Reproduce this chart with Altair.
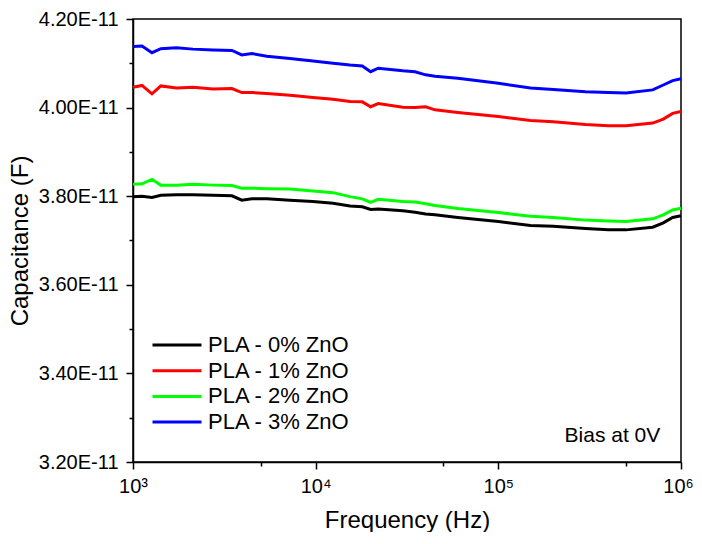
import altair as alt
import pandas as pd

# ---- data ----
freq_hz = [1000, 1120, 1270, 1420, 1730, 2130, 2740, 3480, 3940, 4480, 5400, 7230,
           9660, 12440, 15420, 18000, 20000, 22000, 30000, 35000, 40000, 45000,
           60000, 100000, 150000, 200000, 300000, 400000, 500000, 700000, 800000,
           900000, 1000000]

# capacitance in units of 1E-11 F
cap_0 = [3.799, 3.800, 3.797, 3.802, 3.803, 3.803, 3.802, 3.801, 3.791, 3.794, 3.794,
         3.791, 3.788, 3.784, 3.778, 3.776, 3.770, 3.771, 3.767, 3.764, 3.760, 3.758,
         3.752, 3.743, 3.734, 3.732, 3.727, 3.724, 3.724, 3.730, 3.740, 3.752, 3.756]
cap_1 = [4.046, 4.050, 4.031, 4.049, 4.044, 4.046, 4.042, 4.043, 4.034, 4.034, 4.032,
         4.028, 4.023, 4.019, 4.014, 4.013, 4.002, 4.009, 4.001, 4.000, 4.002, 3.995,
         3.989, 3.980, 3.971, 3.968, 3.962, 3.959, 3.959, 3.965, 3.974, 3.987, 3.991]
cap_2 = [3.827, 3.828, 3.838, 3.825, 3.825, 3.827, 3.825, 3.824, 3.818, 3.818, 3.817,
         3.816, 3.812, 3.808, 3.799, 3.794, 3.786, 3.793, 3.788, 3.787, 3.783, 3.779,
         3.772, 3.763, 3.755, 3.752, 3.746, 3.744, 3.743, 3.749, 3.758, 3.769, 3.773]
cap_3 = [4.138, 4.139, 4.124, 4.133, 4.135, 4.132, 4.130, 4.129, 4.119, 4.122, 4.116,
         4.111, 4.105, 4.100, 4.096, 4.094, 4.081, 4.089, 4.083, 4.081, 4.074, 4.071,
         4.066, 4.055, 4.044, 4.041, 4.036, 4.034, 4.033, 4.040, 4.051, 4.061, 4.065]

series_names = ["PLA - 0% ZnO", "PLA - 1% ZnO", "PLA - 2% ZnO", "PLA - 3% ZnO"]
series_colors = ["#000000", "#FF0000", "#00FF00", "#0000FF"]

y_ticks = [3.2e-11, 3.3e-11, 3.4e-11, 3.5e-11, 3.6e-11, 3.7e-11, 3.8e-11, 3.9e-11,
           4.0e-11, 4.1e-11, 4.2e-11]
x_ticks = [1e3, 5e3, 1e4, 5e4, 1e5, 5e5, 1e6]

note_text = ["Bias at 0V"]
note_x = [7.7e5]
note_y = [3.246e-11]

# ---- build table ----
rows = []
for name, vals in zip(series_names, [cap_0, cap_1, cap_2, cap_3]):
    for f, v in zip(freq_hz, vals):
        rows.append({"freq": f, "cap": v * 1e-11, "series": name})
df = pd.DataFrame(rows)
note_df = pd.DataFrame({"x": note_x, "y": note_y, "text": note_text})

FONT = "Liberation Sans"

x_scale = alt.Scale(type="log", domain=[1e3, 1e6], nice=False)
y_scale = alt.Scale(domain=[3.2e-11, 4.2e-11], nice=False, zero=False)

x_axis = alt.Axis(
    values=x_ticks,
    labelExpr="datum.value == 1000 ? '10³' : datum.value == 10000 ? '10⁴' : "
              "datum.value == 100000 ? '10⁵' : datum.value == 1000000 ? '10⁶' : ''",
    tickSize={"condition": {"test": "indexof([5000, 50000, 500000], datum.value) >= 0",
                            "value": 4}, "value": 7},
    labelOffset={"condition": {"test": "datum.value == 1000000", "value": -3}, "value": 0},
    labelFlush=False,
    labelOverlap=False,
    labelFontSize=20,
    labelPadding=7,
    title="Frequency (Hz)",
    titleFontSize=24,
    titleFontWeight="normal",
    titleX=274,
    titleY=65,
    titleBaseline="alphabetic",
    titleAlign="center",
    grid=False,
)
y_axis = alt.Axis(
    values=y_ticks,
    labelExpr="round(datum.value * 1e12) % 2 == 0 ? format(datum.value * 1e11, '.2f') + 'E-11' : ''",
    tickSize={"condition": {"test": "round(datum.value * 1e12) % 2 == 1", "value": 4},
              "value": 7},
    labelOverlap=False,
    labelFlush=False,
    labelFontSize=20,
    labelPadding=8,
    title="Capacitance (F)",
    titleFontSize=24,
    titleFontWeight="normal",
    titleAngle=-90,
    titleX=-106,
    titleY=221.5,
    titleBaseline="alphabetic",
    titleAlign="center",
    grid=False,
)

lines = alt.Chart(df).mark_line(strokeWidth=3).encode(
    x=alt.X("freq:Q", scale=x_scale, axis=x_axis),
    y=alt.Y("cap:Q", scale=y_scale, axis=y_axis),
    color=alt.Color(
        "series:N",
        scale=alt.Scale(domain=series_names, range=series_colors),
        sort=series_names,
        legend=alt.Legend(
            orient="none",
            legendX=33,
            legendY=315,
            title=None,
            symbolType="M-5,0H5",
            symbolSize=96,
            symbolStrokeWidth=3,
            labelFontSize=22,
            labelFont=FONT,
            labelColor="black",
            labelOffset=20,
            rowPadding=3.7,
            padding=0,
        ),
    ),
    detail="series:N",
)

note = alt.Chart(note_df).mark_text(
    align="right", baseline="alphabetic", fontSize=21, font=FONT, color="black"
).encode(
    x=alt.X("x:Q", scale=x_scale),
    y=alt.Y("cap:Q", scale=y_scale),
    text="text:N",
).transform_calculate(cap="datum.y")

chart = alt.layer(lines, note).properties(
    width=548,
    height=443,
    padding={"left": 125, "top": 11, "right": 13, "bottom": 70},
    autosize=alt.AutoSizeParams(type="none"),
    background="white",
).configure_view(
    stroke="black", strokeWidth=1.5
).configure_axis(
    domainColor="black", domainWidth=1.5, tickColor="black", tickWidth=1.5,
    labelColor="black", titleColor="black", labelFont=FONT, titleFont=FONT,
)

chart.save("out.html", embed_options={"renderer": "svg", "actions": False})
